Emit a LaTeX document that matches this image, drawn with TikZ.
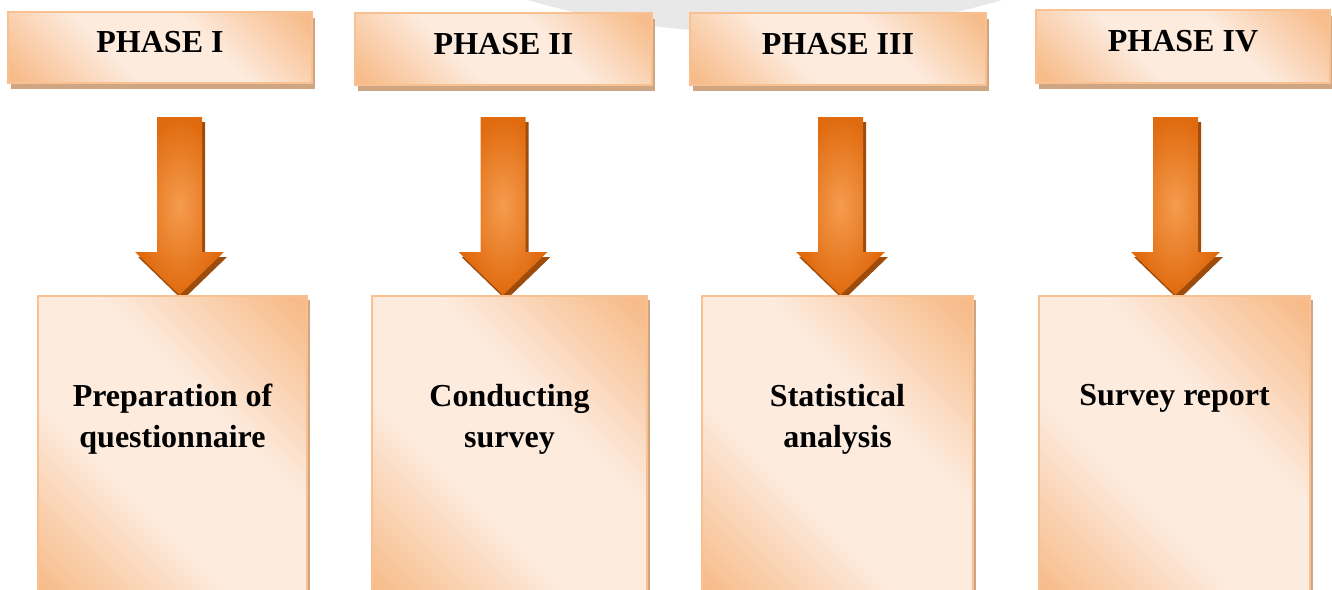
\documentclass[tikz,border=0pt]{standalone}
\usepackage{fontspec}
\setmainfont{Liberation Serif}
\usetikzlibrary{calc,shadows}
\definecolor{pdark}{RGB}{247,188,138}
\definecolor{plight}{RGB}{253,235,222}
\definecolor{pborder}{RGB}{249,192,145}
\definecolor{pshadow}{RGB}{206,166,132}
\definecolor{adark}{RGB}{224,106,14}
\definecolor{alight}{RGB}{245,156,78}
\definecolor{ashadow}{RGB}{158,76,12}
\definecolor{wmark}{RGB}{232,232,232}
\pgfdeclarehorizontalshading{peach}{100bp}{color(0bp)=(pdark); color(17bp)=(pdark); color(40bp)=(plight); color(60bp)=(plight); color(83bp)=(pdark); color(100bp)=(pdark)}
\pgfdeclarelayer{bg}
\pgfsetlayers{bg,main}
\tikzset{
  panel/.style={draw=pborder, line width=1.5pt, shade, shading=peach, shading angle=45, inner sep=0pt},
  hdr/.style={panel, drop shadow={shadow xshift=3pt, shadow yshift=-6pt, fill=pshadow, opacity=1},
    font=\fontsize{32}{38}\selectfont\bfseries, text height=22pt, text depth=12pt},
  stage/.style={panel, drop shadow={shadow xshift=3pt, shadow yshift=-4pt, fill=pshadow, opacity=1}},
  stagetext/.style={font=\fontsize{32}{41}\selectfont\bfseries, align=center, inner sep=0pt, anchor=north},
  arrshadow/.style={fill=ashadow},
  arrface/.style={inner color=alight, outer color=adark},
}
\newcommand\blockarrow[2]{%
  \fill[arrshadow] let \p1=(#1), \p2=(#2) in
    (\x1-19.5pt,\y1-5pt) -- (\x1+25.5pt,\y1-5pt) -- (\x1+25.5pt,\y2+38pt) -- (\x1+47.5pt,\y2+38pt)
    -- (\x2+3pt,\y2-5pt) -- (\x1-41.5pt,\y2+38pt) -- (\x1-19.5pt,\y2+38pt) -- cycle;
  \shade[arrface] let \p1=(#1), \p2=(#2) in
    (\x1-22.5pt,\y1) -- (\x1+22.5pt,\y1) -- (\x1+22.5pt,\y2+43pt) -- (\x1+44.5pt,\y2+43pt)
    -- (\x2,\y2) -- (\x1-44.5pt,\y2+43pt) -- (\x1-22.5pt,\y2+43pt) -- cycle;
}
\begin{document}
\begin{tikzpicture}[x=1pt,y=-1pt]
\useasboundingbox (0,0) rectangle (1332,589);
\clip (0,0) rectangle (1332,589);
\fill[wmark] (765,-300) ellipse [x radius=546, y radius=333];

% headers
\node[hdr, minimum width=304pt, minimum height=71pt] (h1) at (160,47.5) {PHASE I};
\node[hdr, minimum width=297pt, minimum height=72pt] (h2) at (503.5,49) {PHASE II};
\node[hdr, minimum width=296pt, minimum height=72pt] (h3) at (838,49) {PHASE III};
\node[hdr, minimum width=294pt, minimum height=73pt] (h4) at (1183,46.5) {PHASE IV};

% stage boxes
\node[stage, minimum width=269pt, minimum height=310pt, anchor=north] (b1) at (172.5,295) {};
\node[stage, minimum width=275pt, minimum height=310pt, anchor=north] (b2) at (509.5,295) {};
\node[stage, minimum width=271pt, minimum height=310pt, anchor=north] (b3) at (837.5,295) {};
\node[stage, minimum width=271pt, minimum height=310pt, anchor=north] (b4) at (1174.5,295) {};

\node[stagetext] (t1) at ($(b1.north)+(0,89)$) {Preparation of\\questionnaire};
\node[stagetext] (t2) at ($(b2.north)+(0,89)$) {Conducting\\survey};
\node[stagetext] (t3) at ($(b3.north)+(0,89)$) {Statistical\\analysis};
\node[stagetext] (t4) at ($(b4.north)+(0,89)$) {Survey report};

% arrows
\coordinate (a1t) at (179.5,117);
\coordinate (a2t) at (503,117);
\coordinate (a3t) at (840.5,117);
\coordinate (a4t) at (1175.5,117);
\coordinate (a1e) at (a1t |- b1.north);
\coordinate (a2e) at (a2t |- b2.north);
\coordinate (a3e) at (a3t |- b3.north);
\coordinate (a4e) at (a4t |- b4.north);
\begin{pgfonlayer}{bg}
\blockarrow{a1t}{a1e}
\blockarrow{a2t}{a2e}
\blockarrow{a3t}{a3e}
\blockarrow{a4t}{a4e}
\end{pgfonlayer}
\end{tikzpicture}
\end{document}
